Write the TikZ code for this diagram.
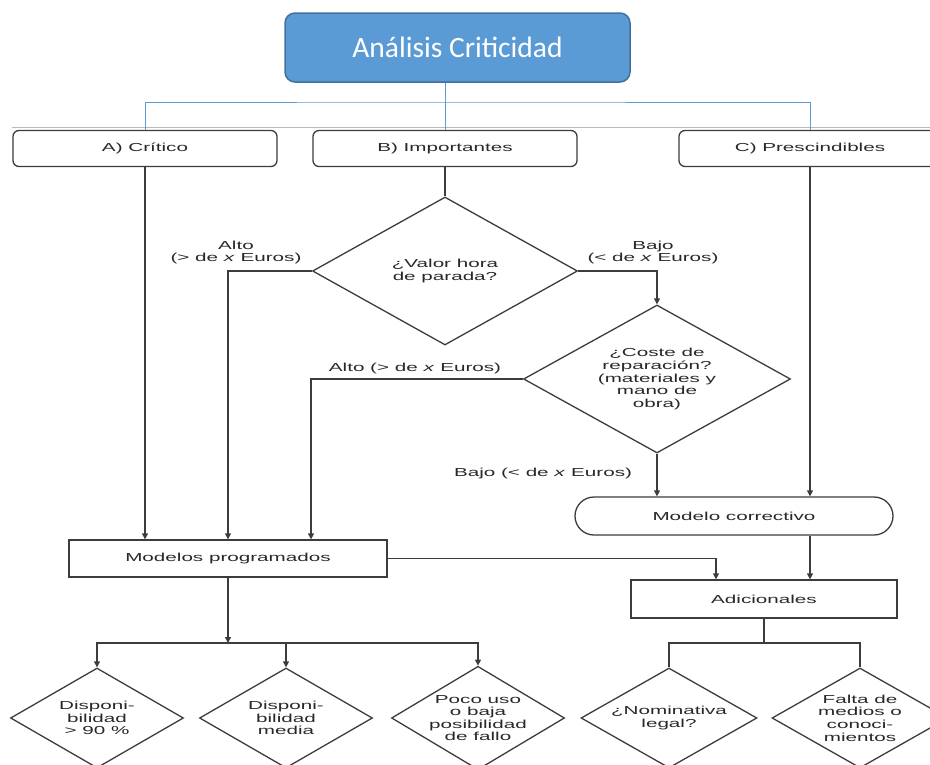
\documentclass[tikz,border=0pt]{standalone}
\usepackage{fontspec}
\setmainfont{Liberation Sans}[FakeStretch=1.78]
\newfontfamily\titlefont{Carlito}
\usetikzlibrary{arrows.meta,shapes.geometric}
\definecolor{critB}{RGB}{91,155,213}
\definecolor{critE}{RGB}{65,113,156}
\definecolor{critL}{RGB}{60,60,60}
\definecolor{critT}{RGB}{40,40,40}

\begin{document}
\begin{tikzpicture}[x=1pt,y=-1pt,>={Triangle[length=6pt,width=6pt]},
  txt/.style={font=\fontsize{11.6}{12.6}\selectfont,text=critT,align=center},
  rbox/.style={txt,draw=critL,line width=1.3pt,rounded corners=6pt,minimum width=264pt,minimum height=36pt},
  pbox/.style={txt,draw=critL,line width=1.3pt,minimum height=37pt},
  dia/.style={txt,draw=critL,line width=1.3pt,shape=diamond,inner sep=-10pt},
  link/.style={critL,line width=1.3pt},
  tree/.style={critB,line width=1pt}]
\useasboundingbox (0,0) rectangle (930,764);
\clip (0,0) rectangle (930,764);
% title and the three classes
\node[draw=critE,fill=critB,line width=1.5pt,rounded corners=10pt,minimum width=345pt,minimum height=69pt,text=white,font=\titlefont\fontsize{29.5}{31}\selectfont] (top) at (457.5,47.5) {Análisis Criticidad};
\draw[gray!55,line width=0.8pt] (12,127) -- (930,127);
\node[rbox] (crit) at (145,148.5) {A) Crítico};
\node[rbox] (imp) at (445,148.5) {B) Importantes};
\node[rbox,minimum width=262pt] (presc) at (810,148.5) {C) Prescindibles};
% decisions
\node[dia,minimum width=265pt,minimum height=148pt] (valor) at (445,271) {¿Valor hora\\de parada?};
\node[dia,minimum width=267pt,minimum height=148pt] (coste) at (657,379) {¿Coste de\\reparación?\\(materiales y\\mano de\\obra)};
\node[txt] (altoA) at (236,252.5) {Alto\\(> de \textit{x} Euros)};
\node[txt] (bajoA) at (653,252.5) {Bajo\\(< de \textit{x} Euros)};
\node[txt] (altoB) at (415,368) {Alto (> de \textit{x} Euros)};
\node[txt] (bajoB) at (543,473) {Bajo (< de \textit{x} Euros)};
% models
\node[pbox,minimum width=318pt] (prog) at (228,558.5) {Modelos programados};
\node[pbox,rounded corners=19pt,minimum width=318pt,minimum height=38pt] (corr) at (734,516) {Modelo correctivo};
\node[pbox,minimum width=266pt,minimum height=38pt] (adic) at (764,599) {Adicionales};
% bottom row
\node[dia,minimum width=173pt,minimum height=100pt] (disp1) at (97,718) {Disponi-\\bilidad\\> 90 \%};
\node[dia,minimum width=173pt,minimum height=100pt] (disp2) at (286,718) {Disponi-\\bilidad\\media};
\node[dia,minimum width=173pt,minimum height=100pt] (poco) at (478,718) {Poco uso\\o baja\\posibilidad\\de fallo};
\node[dia,minimum width=176pt,minimum height=100pt] (nomin) at (669,718) {¿Nominativa\\legal?};
\node[dia,minimum width=176pt,minimum height=100pt] (falta) at (860,718) {Falta de\\medios o\\conoci-\\mientos};
% connectors
\coordinate (bus) at (445,102);
\draw[tree] (top.south -| imp.north) -- (imp.north);
\draw[tree] (crit.north) |- (bus) -| (presc.north);
\draw[link,->] (crit.south) -- (crit.south |- prog.north);
\draw[link] (imp.south) -- (valor.north);
\draw[link,->] (valor.west) -| (prog.north);
\draw[link,->] (valor.east) -| (coste.north);
\draw[link,->] (coste.west) -| ([xshift=83pt]prog.north);
\draw[link,->] (coste.south) -- (coste.south |- corr.north);
\draw[link,->] (presc.south) -- (presc.south |- corr.north);
\draw[link,->] (prog.east) -| ([xshift=-48pt]adic.north);
\draw[link,->] (presc.south |- corr.south) -- (presc.south |- adic.north);
\coordinate (pbus) at (228,643);
\draw[link,->] (prog.south) -- (pbus);
\draw[link,->] (pbus) -| (disp1.north);
\draw[link,->] (pbus) -| (poco.north);
\draw[link,->] (disp2.north |- pbus) -- (disp2.north);
\coordinate (abus) at (764,643);
\draw[link] (adic.south) -- (abus);
\draw[link] (nomin.north) |- (abus) -| (falta.north);
\end{tikzpicture}
\end{document}
